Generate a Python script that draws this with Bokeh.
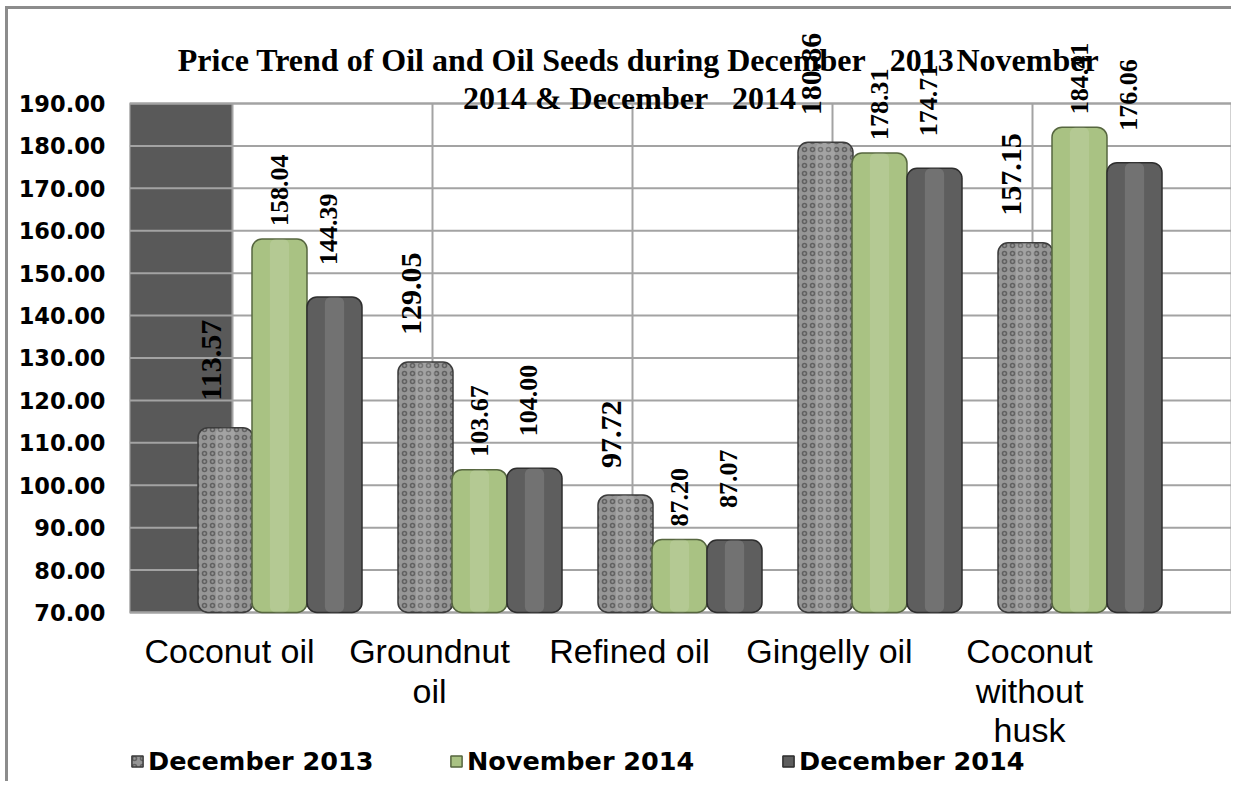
import numpy as np
from bokeh.plotting import figure
from bokeh.models import Range1d, FixedTicker, Legend, LegendItem, ColumnDataSource
from bokeh.core.properties import value
from bokeh.embed import file_html
from bokeh.resources import INLINE

# ---------------- data ----------------
categories = ["Coconut oil", "Groundnut\noil", "Refined oil", "Gingelly oil", "Coconut\nwithout\nhusk"]
series_names = ["December 2013", "November 2014", "December 2014"]
dec_2013 = [113.57, 129.05, 97.72, 180.86, 157.15]
nov_2014 = [158.04, 103.67, 87.20, 178.31, 184.41]
dec_2014 = [144.39, 104.00, 87.07, 174.71, 176.06]
y_ticks = [70, 80, 90, 100, 110, 120, 130, 140, 150, 160, 170, 180, 190]
title_line1 = "Price Trend of Oil and Oil Seeds during December\u00a0\u00a0 2013\u200aNovember"
title_line2 = "2014 & December\u00a0\u00a0 2014"

# ---------------- styling ----------------
series = [dec_2013, nov_2014, dec_2014]
offsets = [-0.27, 0.0, 0.275]
bar_w = 0.275
fills = ["#969696", "#a9c283", "#5e5e5e"]
outlines = ["#3c3c3c", "#56663f", "#2e2e2e"]
lbl_sizes = ["30px", "26px", "26px"]
lbl_gap = [27, 13, 32]
lbl_dx = [-14, 0, -6]
legend_x = [1, 320, 652]

y_min, y_max = 70, 190
xs = np.arange(len(categories))

p = figure(width=1226, height=775, output_backend="svg", toolbar_location=None,
           x_range=Range1d(-0.75, 4.775), y_range=Range1d(29.45, 212.16),
           x_axis_location=None, min_border_left=121, min_border_right=0,
           min_border_top=0, min_border_bottom=0)
p.styles = {"margin-left": "5px", "margin-top": "6px",
            "border-left": "3px solid #8c8c8c", "border-top": "3px solid #8c8c8c"}
p.outline_line_color = None
p.xgrid.visible = False
p.ygrid.visible = False
p.background_fill_color = "white"
p.border_fill_color = "white"

# y axis
p.yaxis.ticker = FixedTicker(ticks=y_ticks)
p.yaxis.major_label_overrides = {t: f"{t:.2f}" for t in y_ticks}
p.yaxis.axis_line_color = None
p.yaxis.major_tick_line_color = None
p.yaxis.minor_tick_line_color = None
p.yaxis.major_label_standoff = 18
p.yaxis.major_label_text_font = "DejaVu Sans"
p.yaxis.major_label_text_font_style = "bold"
p.yaxis.major_label_text_font_size = "22.5px"
p.yaxis.major_label_text_color = "black"

# dark back block on left
p.quad(left=[-0.75], right=[-0.235], bottom=[y_min], top=[y_max],
       fill_color="#595959", line_color=None)

# gridlines
grid_col = "#a3a3a3"
p.segment(x0=[-0.75] * len(y_ticks), x1=[4.76] * len(y_ticks), y0=y_ticks, y1=y_ticks,
          line_color=grid_col, line_width=2)
vx = list(xs - 0.235)
p.segment(x0=vx, x1=vx, y0=[y_min] * len(vx), y1=[y_max] * len(vx),
          line_color=grid_col, line_width=2)
p.quad(left=[-0.75], right=[4.76], bottom=[y_min], top=[y_max],
       fill_color=None, line_color=grid_col, line_width=2)

# bars
renderers = []
for k, vals in enumerate(series):
    src = ColumnDataSource(dict(x=xs + offsets[k], top=vals,
                                lbl=[f"{v:.2f}" for v in vals]))
    kw = {}
    if k == 0:
        kw = dict(hatch_pattern="ring", hatch_color="#404040", hatch_alpha=0.6,
                  hatch_scale=8, hatch_weight=1.6)
    r = p.vbar(x="x", top="top", bottom=y_min, width=bar_w, source=src,
               fill_color=fills[k], line_color=outlines[k], line_width=1.5,
               border_radius=10, **kw)
    renderers.append(r)
    # highlight to suggest a cylinder
    p.vbar(x="x", top="top", bottom=y_min, width=bar_w * 0.35, source=src,
           fill_color="white", fill_alpha=0.13, line_color=None, border_radius=6)
    p.text(x="x", y="top", text="lbl", source=src, angle=np.pi / 2,
           text_align="left", text_baseline="middle",
           x_offset=lbl_dx[k], y_offset=-lbl_gap[k],
           text_font=value("Liberation Serif"), text_font_style="bold",
           text_font_size=lbl_sizes[k], text_color="black")

# title
p.text(x=[1.795], y=[200.14], text=[title_line1], text_align="center",
       text_baseline="alphabetic", text_font=value("Liberation Serif"),
       text_font_style="bold", text_font_size="32px", text_color="black")
p.text(x=[1.75], y=[191.41], text=[title_line2], text_align="center",
       text_baseline="alphabetic", text_font=value("Liberation Serif"),
       text_font_style="bold", text_font_size="32px", text_color="black")

# category labels
p.text(x=list(xs - 0.25), y=[65.3] * len(categories), text=categories,
       text_align="center", text_baseline="top", text_line_height=1.03,
       text_font=value("Liberation Sans"), text_font_size="34px", text_color="black")

# legends (one per series so the gaps can follow the original)
for k in range(3):
    lg = Legend(items=[LegendItem(label=series_names[k], renderers=[renderers[k]])],
                location=(legend_x[k], 8), orientation="horizontal",
                glyph_width=14, glyph_height=14, label_standoff=4,
                padding=0, margin=0, border_line_color=None, background_fill_alpha=0,
                label_text_font="DejaVu Sans", label_text_font_style="bold",
                label_text_font_size="25.5px", label_text_color="black")
    p.add_layout(lg)

open("out.html", "w").write(file_html(p, INLINE))
